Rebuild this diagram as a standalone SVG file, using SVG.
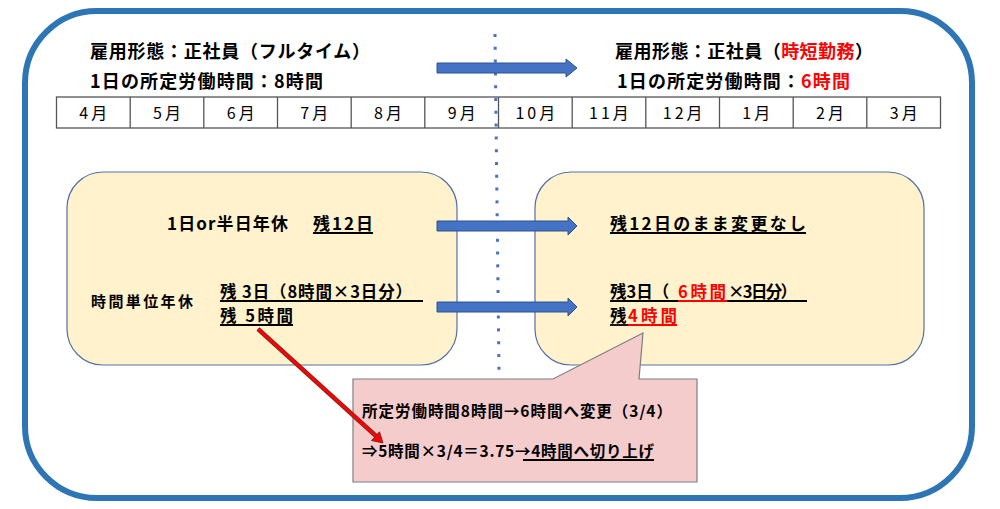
<svg xmlns="http://www.w3.org/2000/svg" width="1000" height="509" viewBox="0 0 1000 509">
<style>
text{font-family:"Noto Sans CJK JP","Noto Sans",sans-serif;font-weight:bold;fill:#000}
.hd{font-size:18px}
.mo{font-size:16px;font-weight:normal;text-anchor:middle;letter-spacing:3px}
.bx{font-size:17px}
.sm{font-size:15px}
.md{font-size:16.5px}
.co{font-size:15.5px}
.red{fill:#FF0000}
.u{stroke:#000;stroke-width:1.8}
.ur{stroke:#FF0000;stroke-width:1.8}
.barrow{fill:#4472C4;stroke:#2F528F;stroke-width:1}
.node{fill:#FFF2CC;stroke:#5470A8;stroke-width:1.2}
</style>
<rect width="1000" height="509" fill="#fff"/>
<g id="frame">
<rect x="25" y="11" width="947" height="487" rx="72" ry="72" fill="none" stroke="#2E75B6" stroke-width="6"/>
</g>
<g id="header-left">
<text class="hd" x="90" y="58" textLength="280">雇用形態：正社員（フルタイム）</text>
<text class="hd" x="90" y="88" textLength="233">1日の所定労働時間：8時間</text>
</g>
<g id="header-right">
<text class="hd" x="615" y="58" textLength="258">雇用形態：正社員（<tspan class="red">時短勤務</tspan>）</text>
<text class="hd" x="617" y="88" textLength="233">1日の所定労働時間：<tspan class="red">6時間</tspan></text>
</g>
<g id="timeline">
<rect x="56.5" y="97" width="884" height="31" fill="#fff" stroke="#555" stroke-width="1.3"/>
<g stroke="#555" stroke-width="1.3">
<line x1="130.2" y1="97" x2="130.2" y2="128"/>
<line x1="203.8" y1="97" x2="203.8" y2="128"/>
<line x1="277.5" y1="97" x2="277.5" y2="128"/>
<line x1="351.2" y1="97" x2="351.2" y2="128"/>
<line x1="424.8" y1="97" x2="424.8" y2="128"/>
<line x1="498.5" y1="97" x2="498.5" y2="128"/>
<line x1="572.2" y1="97" x2="572.2" y2="128"/>
<line x1="645.8" y1="97" x2="645.8" y2="128"/>
<line x1="719.5" y1="97" x2="719.5" y2="128"/>
<line x1="793.2" y1="97" x2="793.2" y2="128"/>
<line x1="866.8" y1="97" x2="866.8" y2="128"/>
</g>
<text class="mo" x="94.8" y="119">4月</text>
<text class="mo" x="168.5" y="119">5月</text>
<text class="mo" x="242.2" y="119">6月</text>
<text class="mo" x="315.8" y="119">7月</text>
<text class="mo" x="389.5" y="119">8月</text>
<text class="mo" x="463.2" y="119">9月</text>
<text class="mo" x="536.8" y="119">10月</text>
<text class="mo" x="610.5" y="119">11月</text>
<text class="mo" x="684.2" y="119">12月</text>
<text class="mo" x="757.8" y="119">1月</text>
<text class="mo" x="831.5" y="119">2月</text>
<text class="mo" x="905.2" y="119">3月</text>
</g>
<g id="before">
<rect class="node" x="67" y="172" width="390" height="193" rx="36" ry="36"/>
<text class="bx" x="167" y="230" textLength="121">1日or半日年休</text>
<text class="bx" x="313" y="230" textLength="60">残12日</text>
<line class="u" x1="313" y1="233" x2="373" y2="233"/>
<text class="sm" x="91" y="307" textLength="102">時間単位年休</text>
<text class="md" x="220" y="298" textLength="192">残 3日（8時間×3日分）</text>
<line class="u" x1="220" y1="301" x2="423" y2="301"/>
<text class="md" x="220" y="322" textLength="73">残 5時間</text>
<line class="u" x1="220" y1="325" x2="293" y2="325"/>
</g>
<g id="after">
<rect class="node" x="535" y="172" width="389" height="193" rx="36" ry="36"/>
<text class="bx" x="610" y="230" textLength="196">残12日のまま変更なし</text>
<line class="u" x1="610" y1="233" x2="806" y2="233"/>
<text class="md" x="610" y="298">残3日（<tspan class="red" x="678" textLength="48">6時間</tspan><tspan x="728" textLength="69">×3日分）</tspan></text>
<line class="u" x1="610" y1="301" x2="678" y2="301"/>
<line class="ur" x1="678" y1="301" x2="727" y2="301"/>
<line class="u" x1="727" y1="301" x2="807" y2="301"/>
<text class="md" x="610" y="322">残<tspan class="red" x="628" textLength="49">4時間</tspan></text>
<line class="u" x1="610" y1="325" x2="628" y2="325"/>
<line class="ur" x1="628" y1="325" x2="677" y2="325"/>
</g>
<g id="callout">
<polygon points="353,379 553,379 643,333 639,379 697,379 697,482 353,482" fill="#F4CCCC" stroke="#7F7F7F" stroke-width="1.2"/>
<text class="co" x="362" y="417" textLength="310">所定労働時間8時間→6時間へ変更（3/4）</text>
<text class="co" x="362" y="457" textLength="292">⇒5時間×3/4＝3.75→4時間へ切り上げ</text>
<line class="u" x1="523" y1="460" x2="654" y2="460"/>
</g>
<g id="connectors">
<line x1="495" y1="34" x2="499" y2="372" stroke="#4472C4" stroke-width="3" stroke-dasharray="3 9.8"/>
<polygon class="barrow" points="437,63 566,63 566,59 577,68 566,77 566,73 437,73"/>
<polygon class="barrow" points="437,221 568,221 568,217 577,226 568,235 568,231 437,231"/>
<polygon class="barrow" points="437,302 568,302 568,298 577,307 568,316 568,312 437,312"/>
<line x1="258" y1="329" x2="376" y2="436" stroke="#7a2a2a" stroke-width="4.5"/>
<line x1="258" y1="329" x2="376" y2="436" stroke="#FF0000" stroke-width="3"/>
<polygon points="383,443 371.5,440.5 379.5,431.8" fill="#FF0000" stroke="#7a2a2a" stroke-width="1"/>
</g>
</svg>
